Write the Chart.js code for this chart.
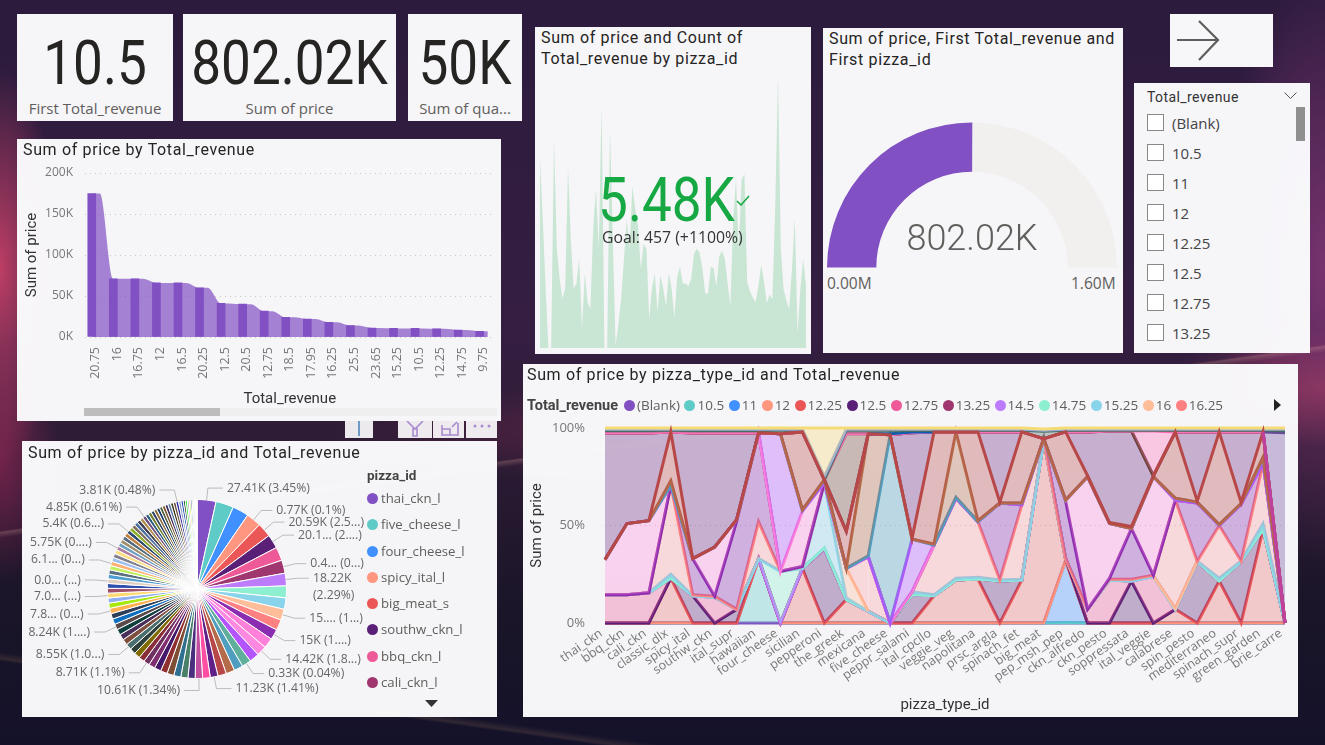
<!DOCTYPE html>
<html>
<head>
<meta charset="utf-8">
<title>Pizza sales report</title>
<script src="https://cdn.jsdelivr.net/npm/chart.js@4"></script>
<style>
  html, body { margin: 0; padding: 0; width: 1325px; height: 745px; overflow: hidden; }
  body {
    position: relative;
    font-family: "Open Sans", sans-serif;
    background:
      linear-gradient(172deg, transparent 0 57%, rgba(240,190,170,.22) 57.2%, transparent 57.8%),
      linear-gradient(8deg, transparent 0 9%, rgba(255,190,120,.12) 9.3%, transparent 10%),
      radial-gradient(60px 200px at 0% 36%, rgba(225,70,110,.8), transparent),
      radial-gradient(60px 120px at 0% 62%, rgba(160,40,90,.6), transparent),
      radial-gradient(110px 300px at 100% 36%, rgba(150,60,130,.7), transparent),
      radial-gradient(160px 60px at 100% 52%, rgba(210,70,90,.5), transparent),
      radial-gradient(360px 50px at 52% 58%, rgba(150,50,90,.4), transparent),
      linear-gradient(180deg, #2c1b3d 0%, #351e42 45%, #2e1c36 58%, #1a1528 82%, #14122a 100%);
  }
  .panel { position: absolute; background: rgba(250,250,252,.98); box-sizing: border-box; }
  .panel canvas { position: absolute; left: 0; top: 0; }
  .title {
    position: absolute; left: 6px; top: 1px; right: 6px; z-index: 2;
    font: 16px/21px Roboto, sans-serif; letter-spacing: .65px; color: #252423;
  }
  .big-number { font: 400 61px/64px Roboto, sans-serif; transform: scaleX(.87); white-space: nowrap; }
  .kpi-value { position: absolute; left: -40px; right: -40px; top: 17px; text-align: center; color: #252423; }
  .kpi-label { position: absolute; left: 0; right: 0; top: 83px; text-align: center; font: 15px/22px "Open Sans", sans-serif; color: #605e5c; }
  .legend-dot { display: inline-block; width: 11px; height: 11px; border-radius: 50%; }
  #pieLegend { position: absolute; left: 345px; top: 24px; z-index: 2; font-size: 13.2px; color: #605e5c; }
  #pieLegend b { display: block; font: 700 13.5px/20px Roboto, sans-serif; color: #444; margin-bottom: 0; }
  #pieLegend div { height: 26.3px; line-height: 26px; white-space: nowrap; }
  #pieLegend .legend-dot { margin-right: 3px; vertical-align: -1px; }
  #areaLegend { position: absolute; left: 4px; top: 32px; z-index: 2; font-size: 13.5px; line-height: 18px; color: #605e5c; white-space: nowrap; }
  #areaLegend b { font: 700 14.5px/18px Roboto, sans-serif; color: #444; margin-right: 6px; }
  #areaLegend span.item { margin-right: 4.5px; }
  #areaLegend .legend-dot { margin-right: 2px; vertical-align: -1px; }
  .slicer-row { position: absolute; left: 13px; font-size: 15px; line-height: 20px; color: #444; }
  .slicer-row i { position: absolute; left: 0; top: 1px; width: 15px; height: 15px; border: 1px solid #8a8886; background: #fff; }
  .slicer-row span { margin-left: 25px; }
  .tool { position: absolute; background: rgba(248,246,248,.95); top: 421px; height: 17px; }
</style>
</head>
<body>

<!-- KPI cards -->
<div class="panel" style="left:17px;top:14px;width:156px;height:107px"><div class="kpi-value big-number">10.5</div><div class="kpi-label">First Total_revenue</div></div>
<div class="panel" style="left:183px;top:14px;width:213px;height:107px"><div class="kpi-value big-number">802.02K</div><div class="kpi-label">Sum of price</div></div>
<div class="panel" style="left:408px;top:14px;width:114px;height:107px"><div class="kpi-value big-number">50K</div><div class="kpi-label">Sum of qua...</div></div>

<!-- Ribbon chart -->
<div class="panel" style="left:17px;top:139px;width:484px;height:282px">
  <div class="title" style="top:0">Sum of price by Total_revenue</div>
  <canvas id="ribbonChart" width="484" height="282"></canvas>
  <div style="position:absolute;left:67px;top:269px;width:413px;height:8px;background:#efefef"></div>
  <div style="position:absolute;left:67px;top:269px;width:136px;height:8px;background:#bdbdbd"></div>
</div>

<!-- Visual header icons below the ribbon chart -->
<div class="tool" style="left:345px;width:28px"><div style="position:absolute;left:13px;top:0;width:2px;height:15px;background:#6e9ac4"></div></div>
<div class="tool" style="left:398px;width:34px"><svg width="34" height="17"><path d="M9 0 L17 8 L25 0 M15 7 V15 H19 V7" fill="none" stroke="#a98bd0" stroke-width="1.6"/></svg></div>
<div class="tool" style="left:433px;width:31px"><svg width="31" height="17"><path d="M9 4 V14 H25 V2 M9 8 H17 V14 M19 6 L24 1" fill="none" stroke="#a98bd0" stroke-width="1.6"/></svg></div>
<div class="tool" style="left:466px;width:31px"><svg width="31" height="17"><circle cx="9" cy="5" r="1.5" fill="#a98bd0"/><circle cx="16" cy="5" r="1.5" fill="#a98bd0"/><circle cx="23" cy="5" r="1.5" fill="#a98bd0"/></svg></div>

<!-- Pie chart -->
<div class="panel" style="left:22px;top:441px;width:475px;height:276px">
  <div class="title">Sum of price by pizza_id and Total_revenue</div>
  <canvas id="pieChart" width="475" height="276"></canvas>
  <div id="pieLegend"></div>
  <svg style="position:absolute;left:403px;top:259px" width="13" height="8"><path d="M0 0 H13 L6.5 7 Z" fill="#333"/></svg>
</div>

<!-- KPI with trend -->
<div class="panel" style="left:535px;top:27px;width:276px;height:327px">
  <div class="title" style="top:0">Sum of price and Count of<br>Total_revenue by pizza_id</div>
  <canvas id="trendChart" width="266" height="272" style="left:5px;top:49px"></canvas>
  <div class="big-number" style="position:absolute;left:0;width:263px;top:141px;text-align:center;z-index:2;color:#16a843">5.48K</div>
  <svg style="position:absolute;left:201px;top:168px;z-index:2" width="14" height="11"><path d="M1 6 L5 10 L13 1" fill="none" stroke="#16a843" stroke-width="1.5"/></svg>
  <div style="position:absolute;left:67px;top:199px;z-index:2;font-size:15.8px;line-height:22px;color:#333">Goal: 457 (+1100%)</div>
</div>

<!-- Gauge -->
<div class="panel" style="left:823px;top:28px;width:300px;height:325px">
  <div class="title" style="top:0">Sum of price, First Total_revenue and<br>First pizza_id</div>
  <canvas id="gaugeChart" width="290" height="146" style="left:4px;top:94px"></canvas>
  <div style="position:absolute;left:0;width:298px;top:186px;text-align:center;z-index:2;font:300 36px/48px Roboto,sans-serif;color:#605e5c">802.02K</div>
  <div style="position:absolute;left:4px;top:245px;font-size:15.5px;line-height:20px;color:#605e5c">0.00M</div>
  <div style="position:absolute;left:248px;top:245px;font-size:15.5px;line-height:20px;color:#605e5c">1.60M</div>
</div>

<!-- Back button -->
<div class="panel" style="left:1170px;top:14px;width:103px;height:53px;background:#f7f6f8">
  <svg width="60" height="53"><path d="M7 26 H48 M29 7 L48 26 L29 46" fill="none" stroke="#605e5c" stroke-width="2.2"/></svg>
</div>

<!-- Slicer -->
<div class="panel" id="slicer" style="left:1134px;top:83px;width:176px;height:270px">
  <div style="position:absolute;left:13px;top:5px;font:400 14px/18px Roboto,sans-serif;letter-spacing:.4px;color:#333">Total_revenue</div>
  <svg style="position:absolute;left:150px;top:9px" width="13" height="8"><path d="M0.5 0.5 L6.5 6.5 L12.5 0.5" fill="none" stroke="#555"/></svg>
  <div style="position:absolute;left:162px;top:24px;width:9px;height:34px;background:#8f8f8f"></div>
</div>

<!-- Stacked area chart -->
<div class="panel" style="left:523px;top:364px;width:775px;height:353px">
  <div class="title" style="left:4px;top:0">Sum of price by pizza_type_id and Total_revenue</div>
  <div id="areaLegend"></div>
  <svg style="position:absolute;left:751px;top:35px" width="8" height="12"><path d="M0 0 V12 L7 6 Z" fill="#222"/></svg>
  <canvas id="areaChart" width="775" height="353"></canvas>
</div>

<script>
// ============================================
// DATA - RIBBON CHART
// ============================================
const ribbonLabels = ['20.75','16','16.75','12','16.5','20.25','12.5','20.5','12.75','18.5','17.95','16.25','25.5','23.65','15.25','10.5','12.25','14.75','9.75'];
const ribbonValues = [175000,71000,71000,66000,66000,60000,41000,40000,31500,24000,22000,18000,14000,11000,10500,10500,10000,8500,7000];

// ============================================
// DATA - PIE CHART
// ============================================
const pieLegendNames = ['thai_ckn_l','five_cheese_l','four_cheese_l','spicy_ital_l','big_meat_s','southw_ckn_l','bbq_ckn_l','cali_ckn_l'];
const pieValues = [27.41,25.8,23.5,21.6,20.59,20.1,19.6,19,18.22,17.2,16.5,15.9,15.4,15,14.8,14.42,14.1,13.4,13,12.6,12.2,11.23,11,10.61,10.4,10.3,10.2,10,9.8,9.5,9.2,8.71,8.68,8.62,8.58,8.55,8.45,8.4,8.3,8.24,8.1,7.95,7.8,7.6,7.3,7,6.95,6.9,6.8,6.6,6.4,6.2,6.1,6,5.95,5.9,5.75,5.7,5.65,5.6,5.5,5.4,5.3,5.25,5.2,5.1,5,4.85,4.75,4.65,4.6,4.5,4.4,4.3,4.25,4.2,4.1,4,3.9,3.81,3.6,3.3,3,2.8,2.5,2.3,2.1,1.9,1.6,1.3,1,0.77,0.33,0.18];
const pieCalloutSlices = [0,3,4,5,7,8,11,13,15,17,21,23,31,35,39,42,45,48,52,56,61,67,79];
const pieCalloutTexts = ['27.41K (3.45%)','0.77K (0.1%)','20.59K (2.5...)','20.1... (2....)','0.4... (0...)','18.22K|(2.29%)','15.... (1...)','15K (1....)','14.42K (1.8...)','0.33K (0.04%)','11.23K (1.41%)','10.61K (1.34%)','8.71K (1.1%)','8.55K (1.0...)','8.24K (1....)','7.8... (0...)','7.0... (...)','0.0... (...)','6.1... (0...)','5.75K (0....)','5.4K (0.6...)','4.85K (0.61%)','3.81K (0.48%)'];

// ============================================
// DATA - TREND AND GAUGE
// ============================================
const trendValues = [19,12.9,6,0,0,21,10,7,5,6,18.1,11,6,6.5,9,2,7.5,4.6,3.9,12,16,10,24.4,0,0,22,11,0.2,2.4,5,9,12.9,10,16.3,14,12.3,8,10.5,10,2.9,6,7.5,3.6,7.3,6,4.2,7.5,6,3,7.2,8.2,6.5,6.5,6.2,7,9.5,10,9.6,8,5.5,5.5,8.2,8,6.2,9.2,9.8,9,6.5,4.2,13,17,9.8,17,17.5,6.6,5.7,5.1,4.6,6.2,8.4,6.7,4.5,5.4,4.9,14,27.41,10,5.9,4.8,3.9,8,13,1.5,6,9,6.2];
const gaugeValue = 802.02;
const gaugeMax = 1600;

// ============================================
// DATA - SLICER
// ============================================
const slicerItems = ['(Blank)','10.5','11','12','12.25','12.5','12.75','13.25'];

// ============================================
// DATA - STACKED AREA (share of each pizza type, in percent)
// ============================================
const pizzaTypes = ['thai_ckn','bbq_ckn','cali_ckn','classic_dlx','spicy_ital','southw_ckn','ital_supr','hawaiian','four_cheese','sicilian','pepperoni','the_greek','mexicana','five_cheese','peppr_salami','ital_cpcllo','veggie_veg','napolitana','prsc_argla','spinach_fet','big_meat','pep_msh_pep','ckn_alfredo','ckn_pesto','soppressata','ital_veggie','calabrese','spin_pesto','mediterraneo','spinach_supr','green_garden','brie_carre'];
const areaLegendNames = ['(Blank)','10.5','11','12','12.25','12.5','12.75','13.25','14.5','14.75','15.25','16','16.25'];
const shareBlank = [0,0,0,0,0,0,0,0,0,0,0,0,0,0,0,0,0,0,0,0,0,0,0,0,0,0,0,0,0,0,0,0];
const share105 = [0,0,0,0,0,0,0,33,0,0,0,0,0,0,0,0,0,0,0,0,0,.3,0,0,0,0,0,0,0,0,0,0];
const share11 = [0,0,0,0,0,0,0,0,0,0,0,0,0,0,0,0,0,0,0,0,0,31.7,0,0,0,0,0,0,0,0,0,0];
const share12 = [0,0,0,0,0,0,0,0,0,0,0,0,0,0,0,0,0,0,0,0,0,0,0,0,0,0,0,0,0,0,0,0];
const share1225 = [0,0,0,23,0,0,0,0,0,28,0,12,6,0,0,14,22,22.5,0,22,94,0,0,0,0,0,7,0,21.5,0,48,0];
const share125 = [0,0,0,0,14,0,7,0,0,0,38,0,0,0,14.5,0,0,0,21.5,0,0,1,0,0,21.5,0,0,31.5,0,31.5,0,0];
const share1275 = [14.5,14.5,15.5,0,0,13.2,0,0,0,0,0,0,0,0,0,0,0,0,0,0,0,0,7,22,0,24,0,0,0,0,0,0];
const share1325 = [0,0,0,0,0,0,0,0,0,0,0,0,0,0,0,0,0,0,0,0,0,0,0,0,0,0,0,0,0,0,0,0];
const share145 = [0,0,0,0,0,0,0,0,0,0,0,0,0,0,0,0,0,0,0,0,0,0,0,0,0,0,0,0,0,0,0,0];
const share1475 = [0,0,0,0,0,0,0,0,26.5,0,.5,0,0,0,0,0,0,0,0,0,0,0,0,0,0,0,0,0,0,0,0,0];
const share1525 = [0,0,0,2,0,0,0,0,0,0,33,1,0,0,1.5,.5,1,1,.5,.5,.5,0,0,0,0,0,0,.2,1.5,.3,3,0];
const share16 = [0,0,0,0,0,0,0,0,0,1,.5,15,0,0,0,0,0,0,0,0,0,0,0,0,0,0,.5,0,0,0,0,0];
const share1625 = [0,0,0,45.6,.5,.5,0,19,0,0,0,0,28,0,0,25.5,41,28.5,0,38,0,0,0,.5,1,.5,55.5,0,27,0,31,0];
const share165 = [0,0,0,0,18.5,0,45,45.5,0,0,0,0,0,0,0,0,0,0,39.5,0,0,29.5,0,.5,26,0,0,29.8,0,29,0,0];
const share1675 = [18,36.5,37,0,0,25.3,1,0,0,28.5,0,0,0,0,0,0,0,0,0,0,0,.5,68,28,0,50.5,0,0,0,0,0,0];
const share175 = [0,0,0,0,0,0,0,0,70.5,0,0,0,0,0,27,0,0,0,0,0,0,0,0,0,0,0,0,0,0,0,0,0];
const share1795 = [0,0,0,0,0,0,0,0,0,.5,1.5,0,.5,96.5,0,0,.5,0,0,1,0,0,0,0,0,0,1,.5,.5,.5,3,0];
const share185 = [0,0,0,2.4,0,0,0,0,0,0,0,0,62.5,0,0,.5,33.5,.5,0,0,0,0,0,0,0,0,0,0,0,0,0,0];
const share2025 = [0,0,0,25,0,0,0,0,0,40,0,19,0,0,.5,57.5,0,45.5,.5,36.5,0,35,.5,.5,1,.5,34,.5,47.5,.5,13,0];
const share2075 = [65,46.5,45,0,64.5,58.5,44.5,0,0,0,0,0,0,0,54,0,0,0,36,0,0,0,22.5,47,49,0,0,35.5,0,36.2,0,0];
const share205 = [0,0,0,0,0,0,0,0,0,0,0,50,0,0,0,0,0,0,0,0,0,0,0,0,0,0,0,0,0,0,0,0];
const share21 = [0,0,0,0,0,0,0,0,0,0,0,0,0,0,0,0,0,0,0,0,0,0,0,0,0,23,0,0,0,0,0,0];
const share2365 = [0,0,0,0,0,0,0,0,0,0,0,0,0,0,0,0,0,0,0,0,0,0,0,0,0,0,0,0,0,0,0,0];
const share255 = [0,0,0,0,0,0,0,0,0,0,0,0,0,0,0,0,0,0,0,0,0,0,0,0,0,0,0,0,0,0,0,97.5];
const share28 = [0,0,0,0,0,0,0,0,0,0,0,0,0,.5,.5,0,0,0,0,0,0,0,0,0,0,0,0,0,0,0,0,0];
const share325 = [1.2,1.2,1.2,.8,1.2,1.2,1.2,1.2,1.8,.8,0,1.8,1.8,1.8,.7,.8,.8,.8,.8,.8,3.8,.8,.8,.4,.4,.4,.8,.8,.8,.8,.8,1.2];
const share3595 = [.6,.6,.6,.6,.6,.6,.6,.6,.6,.6,1.5,.6,.6,.6,.6,.6,.6,.6,.6,.6,.6,.6,.6,.5,.5,.5,.6,.6,.6,.6,.6,.6];
const share365 = [.7,.7,.7,.6,.7,.7,.7,.7,.6,.6,25,.6,.6,.6,.7,.6,.6,.6,.6,.6,.6,.6,.6,.6,.6,.6,.6,.6,.6,.6,.6,.7];

// Stack order, bottom to top
const areaSeriesNames = ['(Blank)','10.5','11','12','12.25','12.5','12.75','13.25','14.5','14.75','15.25','16','16.25','16.5','16.75','17.5','17.95','18.5','20.25','20.75','20.5','21','23.65','25.5','28','32.5','35.95','36.5'];
const areaSeriesValues = [shareBlank,share105,share11,share12,share1225,share125,share1275,share1325,share145,share1475,share1525,share16,share1625,share165,share1675,share175,share1795,share185,share2025,share2075,share205,share21,share2365,share255,share28,share325,share3595,share365];

// ============================================
// STYLES
// ============================================
const TICK_FONT = { family: '"Open Sans", sans-serif', size: 12.5 };
const AXIS_FONT = { family: 'Roboto, sans-serif', size: 15 };
const TICK_COLOR = '#777';
const GRID_DOT = { color: '#c8c8c8', lineWidth: 1 };

const pieColors = ['#8150C3','#5FCBC7','#4190FF','#FF9680','#EB5757','#5A1F76','#ED5A97','#A03670','#BD7CFC','#8DEFCF','#8AD4EB','#FFBD99','#FF8080','#8B2DB0','#FF80D8','#FF88E0','#B354FF','#5FAF9C','#4F9DBF','#B56B4A','#B84848','#5F2088','#FF4FA3','#C04FA0','#4A2F7F','#4A7F6A','#2F6F8F','#7F4F35','#8F2F2F','#46186A','#7F2F6F','#6F2F5F','#8A2F3A','#7F6B00','#2F3F3A','#4A6F6F','#7F4F3F','#4A2F5A','#0F3F3F','#5A4A4A','#0F6FBF','#2F3F5A','#FFB050','#A8E80F','#8FAFF0','#FFD970','#A0506A','#2F4FAF','#E0D0C0','#4F9FD0','#5A6F7F','#C0F060','#FFB070','#A0C0F0','#808090','#FFE080','#B07FA0','#70A0C0','#A09070','#556B7F','#C08040','#2F4A6F','#90B030','#7F7060','#4A6FA0','#3F3F55','#B09050','#705080','#2F5F7F','#6F7F30','#334466','#8F6F40','#1F3F6F','#506040','#7F5A30','#3F2F5F','#5F7FAF','#3F3F20','#6F5040','#2F2FA0','#90A0C0','#1F4FBF','#305030','#20E020','#A0A0B0','#D0E040','#406080','#C0C0D0','#507090','#E0E0E0','#8090A0','#F0D0A0','#C0D0E0','#E8E8F0'];

const areaColors = {
  '(Blank)': '#8150C3', '10.5': '#5FCBC7', '11': '#4190FF', '12': '#FF9680', '12.25': '#EB5757', '12.5': '#5A1F76',
  '12.75': '#ED5A97', '13.25': '#A03670', '14.5': '#BD7CFC', '14.75': '#8DEFCF', '15.25': '#8AD4EB', '16': '#FFBD99',
  '16.25': '#FF8080', '16.5': '#8B2DB0', '16.75': '#FF80D8', '17.5': '#B354FF', '17.95': '#4F9DBF', '18.5': '#B56B4A',
  '20.25': '#B84848', '20.75': '#6B2880', '20.5': '#6E4636', '21': '#FF6FB5', '23.65': '#C0409F', '25.5': '#6A4A9C',
  '28': '#0A5FB4', '32.5': '#4A6B60', '35.95': '#9AACD4', '36.5': '#F5DC78'
};
const areaFillAlpha = { '12.25': 0.28, '16.25': 0.24, '16.75': 0.3, '12.75': 0.34 };
// Lines that only show on part of the axis, first and last category index
const areaLineRange = { '23.65': [30, 31], '25.5': [30, 31], '28': [12, 15] };
// Lines hidden wherever the series has nothing on both sides of a segment
const areaHideFlat = ['16'];

function hexToRgba(hex, alpha) {
  const n = parseInt(hex.slice(1), 16);
  return `rgba(${n >> 16},${(n >> 8) & 255},${n & 255},${alpha})`;
}

// ============================================
// RIBBON CHART
// ============================================
function createRibbonChart() {
  // Each ribbon runs flat across a bar and bends only in the gap to the next bar
  const ribbonPoints = [];
  ribbonValues.forEach((v, i) => {
    ribbonPoints.push({ x: i - 0.19, y: v }, { x: i + 0.19, y: v });
  });

  new Chart(document.getElementById('ribbonChart'), {
    data: {
      labels: ribbonLabels,
      datasets: [
        { type: 'bar', data: ribbonValues, backgroundColor: '#8150C3', barThickness: 8, order: 1 },
        { type: 'line', data: ribbonPoints, xAxisID: 'xr', borderWidth: 0, pointRadius: 0, fill: 'origin', cubicInterpolationMode: 'monotone', backgroundColor: 'rgba(129,80,195,.7)', order: 2 }
      ]
    },
    options: {
      responsive: false, animation: false,
      layout: { padding: { top: 34, right: 6.5 } },
      plugins: { legend: { display: false }, tooltip: { enabled: false } },
      scales: {
        x: {
          offset: true,
          grid: { display: false }, border: { display: false },
          ticks: { color: TICK_COLOR, font: TICK_FONT, autoSkip: false, minRotation: 90, maxRotation: 90, padding: 2 },
          title: { display: true, text: 'Total_revenue', color: '#333', font: AXIS_FONT, padding: { bottom: 13, top: 0 } },
          afterFit: s => { s.height = 84; }
        },
        xr: { type: 'linear', display: false, min: -0.5, max: ribbonLabels.length - 0.5 },
        y: {
          min: 0, max: 200000,
          ticks: { stepSize: 50000, color: TICK_COLOR, font: { ...TICK_FONT, size: 12 }, padding: 12, callback: v => (v / 1000) + 'K' },
          grid: { ...GRID_DOT, drawTicks: false }, border: { display: false, dash: [1, 4] },
          title: { display: true, text: 'Sum of price', color: '#333', font: AXIS_FONT, padding: { top: 6, bottom: 0 } },
          afterFit: s => { s.width = 68; }
        }
      }
    }
  });
}

// ============================================
// PIE CHART
// ============================================
const pieCalloutPlugin = {
  id: 'pieCallouts',
  afterDatasetsDraw(chart) {
    const ctx = chart.ctx;
    const arcs = chart.getDatasetMeta(0).data;
    ctx.save();
    ctx.font = '12.2px "Open Sans", sans-serif';
    ctx.textBaseline = 'middle';
    pieCalloutSlices.forEach((slice, i) => {
      const arc = arcs[slice];
      const mid = (arc.startAngle + arc.endAngle) / 2;
      const r = arc.outerRadius;
      const cos = Math.cos(mid), sin = Math.sin(mid);
      const labelY = arc.y + (r + 12) * sin;
      const elbowX = arc.x + (r + 12) * cos;
      const right = cos > 0.05;
      const run = Math.abs(cos) < 0.35 ? 15 : 11;
      const endX = elbowX + (right ? run : -run);
      ctx.strokeStyle = '#bbb';
      ctx.lineWidth = 1;
      ctx.beginPath();
      ctx.moveTo(arc.x + r * cos, arc.y + r * sin);
      ctx.lineTo(elbowX, labelY);
      ctx.lineTo(endX, labelY);
      ctx.stroke();
      ctx.fillStyle = '#666';
      ctx.textAlign = right ? 'left' : 'right';
      const textX = endX + (right ? 4 : -4);
      pieCalloutTexts[i].split('|').forEach((line, n) => ctx.fillText(line, textX, labelY + n * 17));
    });
    ctx.restore();
  }
};

function createPieChart() {
  new Chart(document.getElementById('pieChart'), {
    type: 'pie',
    data: {
      labels: pieValues.map((_, i) => pieLegendNames[i] || ''),
      datasets: [{ data: pieValues, backgroundColor: pieColors, borderColor: '#fff', borderWidth: 1 }]
    },
    options: {
      responsive: false, animation: false,
      layout: { padding: { left: 85, right: 210, top: 58, bottom: 38 } },
      plugins: { legend: { display: false }, tooltip: { enabled: false } }
    },
    plugins: [pieCalloutPlugin]
  });

  document.getElementById('pieLegend').innerHTML = '<b>pizza_id</b>' + pieLegendNames.map((name, i) =>
    `<div><span class="legend-dot" style="background:${pieColors[i]}"></span>${name}</div>`).join('');
}

// ============================================
// TREND AND GAUGE
// ============================================
function createTrendChart() {
  new Chart(document.getElementById('trendChart'), {
    type: 'line',
    data: {
      labels: trendValues.map((_, i) => i),
      datasets: [{ data: trendValues, borderWidth: 0, pointRadius: 0, fill: 'origin', backgroundColor: 'rgba(22,168,67,.2)' }]
    },
    options: {
      responsive: false, animation: false,
      plugins: { legend: { display: false }, tooltip: { enabled: false } },
      scales: { x: { display: false }, y: { display: false, min: 0, max: 27.41 } }
    }
  });
}

function createGaugeChart() {
  new Chart(document.getElementById('gaugeChart'), {
    type: 'doughnut',
    data: {
      labels: ['Sum of price', 'Remaining'],
      datasets: [{ data: [gaugeValue, gaugeMax - gaugeValue], backgroundColor: ['#8150C3', '#F1F0EE'], borderWidth: 0 }]
    },
    options: {
      responsive: false, animation: false,
      rotation: -90, circumference: 180, cutout: '66%',
      plugins: { legend: { display: false }, tooltip: { enabled: false } }
    }
  });
}

// ============================================
// SLICER
// ============================================
function buildSlicer() {
  const slicer = document.getElementById('slicer');
  slicerItems.forEach((item, i) => {
    const row = document.createElement('div');
    row.className = 'slicer-row';
    row.style.top = (30 + i * 30) + 'px';
    row.innerHTML = `<i></i><span>${item}</span>`;
    slicer.appendChild(row);
  });
}

// ============================================
// STACKED AREA CHART
// ============================================
function createAreaChart() {
  // Add up the shares so every band sits on the one below it
  const running = pizzaTypes.map(() => 0);
  const bands = areaSeriesNames.map((name, k) => {
    const values = areaSeriesValues[k];
    return { name, values, top: values.map((v, i) => (running[i] += v)) };
  });

  // First dataset paints last, so the top of the stack goes first.
  // 20.25 stays above the later series where their lines meet at the top.
  const drawOrder = bands.slice().reverse();
  const moveToFront = name => drawOrder.unshift(drawOrder.splice(drawOrder.findIndex(b => b.name === name), 1)[0]);
  moveToFront('20.25');
  moveToFront('23.65');

  const datasets = drawOrder.map(band => {
    const below = bands[bands.indexOf(band) - 1];
    const color = areaColors[band.name];
    const ds = {
      label: band.name,
      data: band.top,
      borderColor: color,
      borderWidth: 3,
      pointRadius: 0,
      tension: 0,
      clip: false,
      backgroundColor: hexToRgba(color, areaFillAlpha[band.name] || 0.34),
      fill: below ? { target: drawOrder.indexOf(below) } : 'origin'
    };
    const range = areaLineRange[band.name];
    if (range) {
      ds.segment = { borderColor: ctx => (ctx.p0DataIndex >= range[0] && ctx.p1DataIndex <= range[1] ? color : 'transparent') };
    }
    if (areaHideFlat.includes(band.name)) {
      ds.segment = { borderColor: ctx => (band.values[ctx.p0DataIndex] || band.values[ctx.p1DataIndex] ? color : 'transparent') };
    }
    return ds;
  });

  new Chart(document.getElementById('areaChart'), {
    type: 'line',
    data: { labels: pizzaTypes, datasets },
    options: {
      responsive: false, animation: false,
      layout: { padding: { top: 64, right: 13 } },
      plugins: { legend: { display: false }, tooltip: { enabled: false } },
      scales: {
        x: {
          offset: false,
          grid: { display: false }, border: { display: false },
          ticks: { color: TICK_COLOR, font: TICK_FONT, autoSkip: false, minRotation: 35, maxRotation: 35, padding: -5, labelOffset: -4 },
          title: { display: true, text: 'pizza_type_id', color: '#333', font: AXIS_FONT, padding: { bottom: 3, top: 0 } },
          afterFit: s => { s.height = 94; }
        },
        y: {
          min: 0, max: 100,
          ticks: { stepSize: 50, color: TICK_COLOR, font: { ...TICK_FONT, size: 13 }, padding: 20, callback: v => v + '%' },
          grid: { ...GRID_DOT, drawTicks: false }, border: { display: false, dash: [1, 4] },
          title: { display: true, text: 'Sum of price', color: '#333', font: AXIS_FONT, padding: { top: 5, bottom: 0 } },
          afterFit: s => { s.width = 82; }
        }
      }
    }
  });

  document.getElementById('areaLegend').innerHTML = '<b>Total_revenue</b>' + areaLegendNames.map(name =>
    `<span class="item"><span class="legend-dot" style="background:${areaColors[name]}"></span>${name}</span>`).join('');
}

// ============================================
// MAIN
// ============================================
createRibbonChart();
createPieChart();
createTrendChart();
createGaugeChart();
buildSlicer();
createAreaChart();
</script>
</body>
</html>
